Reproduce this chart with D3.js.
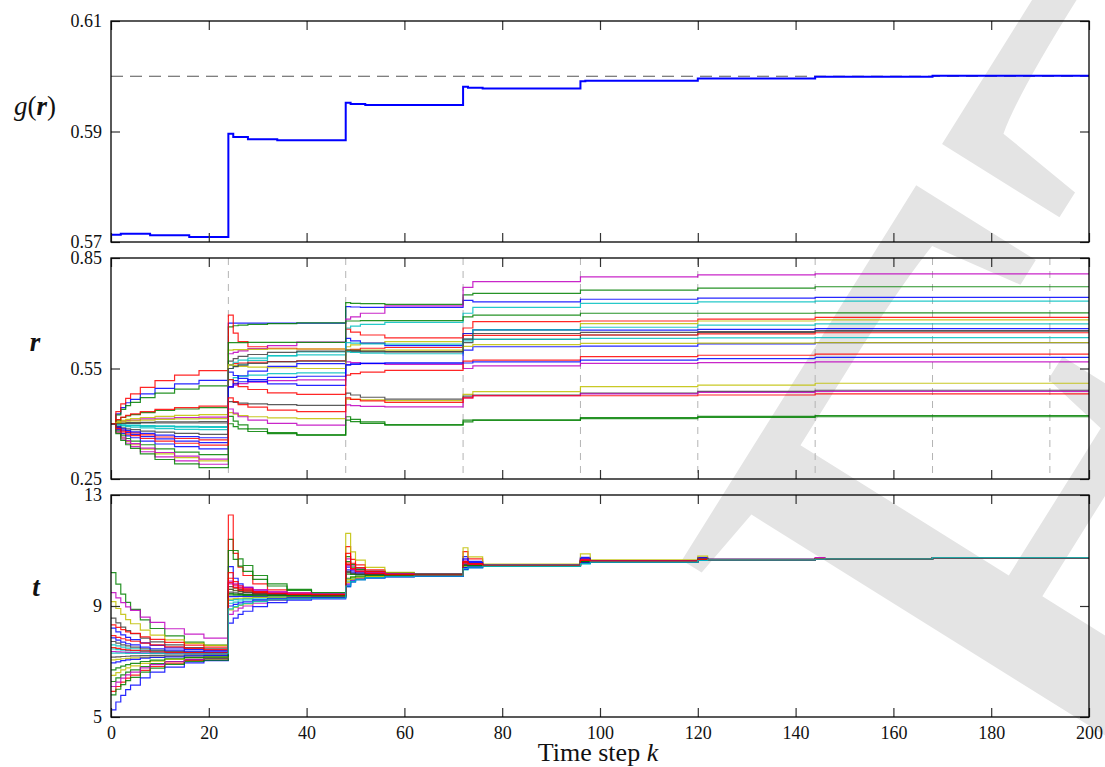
<!DOCTYPE html>
<html>
<head>
<meta charset="utf-8">
<script src="https://cdn.jsdelivr.net/npm/d3@7"></script>
<style>
  body { margin: 0; background: #fff; }
  svg text { font-family: "Liberation Serif", "Times New Roman", serif; fill: #111; }
</style>
</head>
<body>
<svg id="chart" width="1105" height="767"></svg>
<script>
// ===== data =====

const X_TICKS = [0, 20, 40, 60, 80, 100, 120, 140, 160, 180, 200];
const PERIOD_STARTS = [24, 48, 72, 96, 120, 144, 168, 192];
// matlab colour order b g r c m y k
const LINE_COLORS = ["#0000ff", "#008000", "#ff0000", "#00bfbf", "#bf00bf", "#bfbf00", "#404040"];

// top panel: g(r)
const G_TICKS = [0.57, 0.59, 0.61];
const G_LIMIT = 0.6;
const G_STEPS = [0, 2, 8, 16, 24, 25, 28, 34, 48, 49, 52, 72, 73, 76, 96, 97, 120, 144, 168, 200];
const G_VALUES = [0.5713, 0.5715, 0.5712, 0.5709, 0.5896, 0.5890, 0.5886, 0.5884, 0.5952, 0.5950, 0.5948,
                  0.5981, 0.5979, 0.5978, 0.5991, 0.5992, 0.5996, 0.5999, 0.6001, 0.6001];

// middle panel: r (one row per series, values at R_STEPS)
const R_TICKS = [0.25, 0.55, 0.85];
const R_STEPS = [0, 1, 2, 3, 4, 6, 9, 13, 18, 24, 25, 26, 28, 32, 38, 48, 49, 51, 56, 72, 74, 96, 120, 144, 200];
const R_SERIES = [
  [0.400, 0.427, 0.444, 0.457, 0.466, 0.481, 0.496, 0.508, 0.518, 0.673, 0.673, 0.673, 0.673, 0.673, 0.673, 0.718, 0.717, 0.716, 0.716, 0.735, 0.731, 0.738, 0.741, 0.743, 0.743],
  [0.400, 0.424, 0.439, 0.449, 0.458, 0.471, 0.483, 0.494, 0.503, 0.663, 0.666, 0.668, 0.670, 0.672, 0.674, 0.729, 0.727, 0.726, 0.724, 0.750, 0.754, 0.763, 0.768, 0.772, 0.772],
  [0.400, 0.433, 0.454, 0.469, 0.481, 0.499, 0.517, 0.532, 0.544, 0.695, 0.646, 0.623, 0.609, 0.605, 0.603, 0.657, 0.649, 0.641, 0.633, 0.660, 0.677, 0.679, 0.684, 0.689, 0.689],
  [0.400, 0.398, 0.397, 0.396, 0.396, 0.395, 0.394, 0.393, 0.392, 0.550, 0.556, 0.562, 0.572, 0.585, 0.595, 0.660, 0.665, 0.670, 0.675, 0.700, 0.716, 0.727, 0.731, 0.733, 0.733],
  [0.400, 0.404, 0.407, 0.409, 0.410, 0.413, 0.415, 0.417, 0.418, 0.590, 0.594, 0.598, 0.604, 0.612, 0.622, 0.684, 0.690, 0.700, 0.720, 0.770, 0.786, 0.799, 0.804, 0.807, 0.807],
  [0.400, 0.406, 0.409, 0.412, 0.414, 0.417, 0.420, 0.423, 0.425, 0.600, 0.601, 0.601, 0.602, 0.603, 0.603, 0.609, 0.614, 0.619, 0.623, 0.645, 0.655, 0.672, 0.679, 0.682, 0.682],
  [0.400, 0.401, 0.402, 0.403, 0.403, 0.404, 0.405, 0.405, 0.406, 0.570, 0.577, 0.583, 0.588, 0.594, 0.597, 0.596, 0.596, 0.595, 0.595, 0.620, 0.629, 0.641, 0.648, 0.652, 0.652],
  [0.400, 0.388, 0.381, 0.376, 0.371, 0.365, 0.359, 0.353, 0.349, 0.500, 0.517, 0.530, 0.543, 0.556, 0.563, 0.632, 0.625, 0.619, 0.612, 0.645, 0.655, 0.654, 0.656, 0.658, 0.658],
  [0.400, 0.410, 0.417, 0.421, 0.425, 0.430, 0.436, 0.440, 0.444, 0.620, 0.620, 0.620, 0.621, 0.621, 0.621, 0.679, 0.679, 0.680, 0.680, 0.690, 0.695, 0.700, 0.700, 0.701, 0.701],
  [0.400, 0.390, 0.383, 0.379, 0.375, 0.370, 0.364, 0.360, 0.356, 0.560, 0.563, 0.565, 0.567, 0.569, 0.571, 0.600, 0.602, 0.605, 0.607, 0.640, 0.640, 0.641, 0.644, 0.647, 0.647],
  [0.400, 0.396, 0.394, 0.392, 0.391, 0.389, 0.387, 0.385, 0.384, 0.520, 0.525, 0.529, 0.532, 0.536, 0.538, 0.596, 0.594, 0.592, 0.590, 0.630, 0.655, 0.662, 0.668, 0.671, 0.671],
  [0.400, 0.375, 0.359, 0.347, 0.338, 0.324, 0.310, 0.299, 0.290, 0.500, 0.505, 0.509, 0.513, 0.517, 0.519, 0.568, 0.566, 0.563, 0.561, 0.550, 0.557, 0.564, 0.566, 0.568, 0.568],
  [0.400, 0.377, 0.362, 0.352, 0.343, 0.331, 0.318, 0.308, 0.299, 0.430, 0.426, 0.422, 0.419, 0.416, 0.414, 0.467, 0.466, 0.465, 0.463, 0.480, 0.487, 0.501, 0.505, 0.510, 0.510],
  [0.400, 0.400, 0.401, 0.401, 0.401, 0.402, 0.402, 0.402, 0.402, 0.460, 0.458, 0.456, 0.454, 0.452, 0.450, 0.483, 0.478, 0.472, 0.467, 0.475, 0.478, 0.483, 0.488, 0.491, 0.491],
  [0.400, 0.384, 0.374, 0.367, 0.362, 0.353, 0.345, 0.338, 0.332, 0.540, 0.531, 0.523, 0.515, 0.508, 0.504, 0.560, 0.562, 0.564, 0.565, 0.600, 0.609, 0.611, 0.617, 0.620, 0.620],
  [0.400, 0.381, 0.369, 0.360, 0.353, 0.343, 0.332, 0.323, 0.316, 0.420, 0.407, 0.397, 0.386, 0.376, 0.370, 0.419, 0.412, 0.405, 0.397, 0.410, 0.410, 0.417, 0.420, 0.422, 0.422],
  [0.400, 0.411, 0.418, 0.423, 0.427, 0.433, 0.439, 0.444, 0.448, 0.520, 0.510, 0.501, 0.493, 0.484, 0.480, 0.532, 0.536, 0.540, 0.545, 0.570, 0.573, 0.582, 0.586, 0.589, 0.589],
  [0.400, 0.398, 0.396, 0.395, 0.395, 0.393, 0.392, 0.391, 0.390, 0.560, 0.567, 0.573, 0.578, 0.584, 0.587, 0.620, 0.619, 0.617, 0.616, 0.625, 0.629, 0.632, 0.633, 0.634, 0.634],
  [0.400, 0.378, 0.364, 0.354, 0.346, 0.334, 0.322, 0.312, 0.304, 0.440, 0.429, 0.419, 0.410, 0.401, 0.396, 0.451, 0.449, 0.447, 0.446, 0.470, 0.476, 0.481, 0.485, 0.488, 0.488],
  [0.400, 0.403, 0.405, 0.407, 0.408, 0.410, 0.412, 0.413, 0.414, 0.560, 0.558, 0.556, 0.554, 0.552, 0.550, 0.600, 0.600, 0.600, 0.600, 0.610, 0.615, 0.618, 0.619, 0.620, 0.620],
  [0.400, 0.393, 0.389, 0.386, 0.384, 0.380, 0.377, 0.374, 0.371, 0.550, 0.555, 0.559, 0.564, 0.568, 0.570, 0.600, 0.599, 0.597, 0.596, 0.630, 0.645, 0.648, 0.650, 0.652, 0.652],
  [0.400, 0.391, 0.386, 0.382, 0.378, 0.374, 0.369, 0.365, 0.362, 0.500, 0.508, 0.514, 0.520, 0.526, 0.529, 0.560, 0.562, 0.564, 0.565, 0.565, 0.568, 0.573, 0.577, 0.580, 0.580],
  [0.400, 0.373, 0.355, 0.343, 0.333, 0.318, 0.303, 0.291, 0.281, 0.400, 0.392, 0.386, 0.379, 0.373, 0.369, 0.410, 0.406, 0.401, 0.397, 0.405, 0.410, 0.414, 0.417, 0.419, 0.419],
  [0.400, 0.387, 0.378, 0.372, 0.368, 0.360, 0.353, 0.347, 0.342, 0.470, 0.460, 0.452, 0.445, 0.437, 0.433, 0.470, 0.466, 0.462, 0.458, 0.470, 0.476, 0.476, 0.478, 0.481, 0.481]
];

// bottom panel: t (one row per series, values at T_STEPS)
const T_TICKS = [5, 9, 13];
const T_STEPS = [0, 1, 2, 3, 4, 6, 8, 11, 15, 19, 24, 25, 26, 27, 29, 32, 36, 41, 48, 49, 50, 52, 56, 62, 72, 73, 76, 96, 98, 120, 122, 144, 146, 168, 200];
const T_SERIES = [
  [5.26, 5.54, 5.78, 5.99, 6.15, 6.41, 6.62, 6.80, 6.95, 7.03, 10.42, 10.00, 9.80, 9.67, 9.54, 9.45, 9.41, 9.39, 10.30, 10.22, 10.18, 10.15, 10.13, 10.12, 10.78, 10.61, 10.47, 10.75, 10.64, 10.74, 10.68, 10.71, 10.70, 10.74, 10.74],
  [10.20, 9.79, 9.43, 9.13, 8.88, 8.50, 8.19, 7.92, 7.70, 7.59, 11.40, 11.00, 10.70, 10.46, 10.10, 9.80, 9.60, 9.48, 10.78, 10.50, 10.37, 10.26, 10.19, 10.16, 10.60, 10.52, 10.46, 10.65, 10.61, 10.68, 10.67, 10.71, 10.70, 10.74, 10.74],
  [5.92, 6.10, 6.26, 6.40, 6.51, 6.68, 6.82, 6.94, 7.04, 7.09, 12.28, 10.90, 10.40, 10.10, 9.80, 9.58, 9.47, 9.41, 11.14, 10.68, 10.48, 10.30, 10.18, 10.13, 10.96, 10.70, 10.49, 10.70, 10.63, 10.72, 10.68, 10.73, 10.71, 10.74, 10.74],
  [7.60, 7.56, 7.52, 7.48, 7.46, 7.41, 7.38, 7.35, 7.33, 7.32, 9.10, 9.14, 9.18, 9.22, 9.24, 9.28, 9.30, 9.31, 9.70, 9.87, 9.95, 10.01, 10.06, 10.08, 10.30, 10.37, 10.43, 10.52, 10.58, 10.64, 10.66, 10.69, 10.70, 10.74, 10.74],
  [9.48, 9.29, 9.12, 8.97, 8.84, 8.60, 8.41, 8.18, 7.99, 7.84, 9.80, 9.72, 9.66, 9.61, 9.54, 9.48, 9.44, 9.42, 10.70, 10.45, 10.34, 10.25, 10.18, 10.16, 10.65, 10.55, 10.46, 10.68, 10.62, 10.71, 10.67, 10.74, 10.71, 10.74, 10.74],
  [9.16, 8.91, 8.70, 8.51, 8.36, 8.13, 7.95, 7.78, 7.65, 7.58, 9.60, 9.56, 9.52, 9.50, 9.46, 9.42, 9.40, 9.39, 11.62, 10.95, 10.65, 10.39, 10.21, 10.14, 11.10, 10.77, 10.51, 10.88, 10.66, 10.80, 10.68, 10.71, 10.70, 10.74, 10.74],
  [8.56, 8.39, 8.24, 8.11, 8.00, 7.84, 7.71, 7.60, 7.50, 7.46, 9.70, 9.64, 9.59, 9.55, 9.49, 9.44, 9.41, 9.39, 10.48, 10.32, 10.25, 10.18, 10.14, 10.12, 10.55, 10.50, 10.45, 10.64, 10.61, 10.68, 10.67, 10.71, 10.70, 10.74, 10.74],
  [8.20, 8.07, 7.96, 7.87, 7.79, 7.67, 7.58, 7.49, 7.43, 7.39, 9.34, 9.34, 9.35, 9.35, 9.35, 9.36, 9.36, 9.36, 10.40, 10.27, 10.22, 10.17, 10.14, 10.12, 10.70, 10.57, 10.47, 10.72, 10.63, 10.73, 10.68, 10.71, 10.70, 10.74, 10.74],
  [5.80, 6.00, 6.17, 6.31, 6.43, 6.62, 6.76, 6.90, 7.00, 7.05, 11.00, 10.68, 10.44, 10.25, 9.96, 9.72, 9.56, 9.46, 10.60, 10.40, 10.31, 10.23, 10.18, 10.15, 10.55, 10.50, 10.45, 10.63, 10.61, 10.68, 10.67, 10.71, 10.70, 10.74, 10.74],
  [8.32, 8.23, 8.15, 8.07, 8.01, 7.89, 7.80, 7.69, 7.59, 7.52, 9.84, 9.66, 9.56, 9.51, 9.45, 9.41, 9.39, 9.38, 10.90, 10.54, 10.38, 10.24, 10.15, 10.11, 10.60, 10.52, 10.46, 10.66, 10.62, 10.68, 10.67, 10.71, 10.70, 10.74, 10.74],
  [7.45, 7.43, 7.41, 7.39, 7.38, 7.36, 7.34, 7.33, 7.31, 7.31, 9.20, 9.23, 9.25, 9.27, 9.29, 9.31, 9.33, 9.34, 9.90, 9.98, 10.02, 10.05, 10.07, 10.08, 10.42, 10.43, 10.44, 10.56, 10.59, 10.68, 10.67, 10.71, 10.70, 10.74, 10.74],
  [7.36, 7.35, 7.34, 7.33, 7.32, 7.31, 7.30, 7.29, 7.29, 7.28, 8.70, 8.82, 8.92, 9.00, 9.10, 9.20, 9.26, 9.30, 9.80, 9.93, 9.98, 10.03, 10.06, 10.08, 10.38, 10.41, 10.43, 10.55, 10.59, 10.68, 10.67, 10.71, 10.70, 10.74, 10.74],
  [7.06, 7.08, 7.10, 7.11, 7.13, 7.15, 7.16, 7.18, 7.19, 7.19, 8.86, 8.95, 9.02, 9.08, 9.17, 9.24, 9.28, 9.31, 9.95, 10.02, 10.05, 10.07, 10.09, 10.10, 10.45, 10.44, 10.44, 10.58, 10.60, 10.68, 10.67, 10.71, 10.70, 10.74, 10.74],
  [7.72, 7.66, 7.60, 7.56, 7.52, 7.46, 7.41, 7.37, 7.34, 7.32, 9.50, 9.47, 9.45, 9.43, 9.41, 9.39, 9.37, 9.36, 10.20, 10.16, 10.14, 10.12, 10.11, 10.10, 10.50, 10.47, 10.44, 10.62, 10.60, 10.68, 10.67, 10.71, 10.70, 10.74, 10.74],
  [7.85, 7.77, 7.70, 7.64, 7.60, 7.52, 7.46, 7.41, 7.37, 7.35, 8.38, 8.56, 8.70, 8.81, 8.98, 9.12, 9.21, 9.26, 9.70, 9.87, 9.95, 10.01, 10.06, 10.08, 10.32, 10.38, 10.43, 10.54, 10.59, 10.65, 10.66, 10.71, 10.70, 10.74, 10.74],
  [6.28, 6.41, 6.52, 6.62, 6.70, 6.82, 6.92, 7.00, 7.07, 7.11, 9.45, 9.43, 9.42, 9.41, 9.39, 9.38, 9.37, 9.36, 10.15, 10.14, 10.13, 10.13, 10.12, 10.12, 10.48, 10.46, 10.44, 10.60, 10.60, 10.68, 10.67, 10.71, 10.70, 10.74, 10.74],
  [7.93, 7.87, 7.82, 7.77, 7.73, 7.66, 7.60, 7.53, 7.47, 7.43, 10.00, 9.76, 9.64, 9.57, 9.49, 9.44, 9.42, 9.41, 10.50, 10.32, 10.24, 10.17, 10.12, 10.10, 10.55, 10.50, 10.45, 10.64, 10.61, 10.68, 10.67, 10.71, 10.70, 10.74, 10.74],
  [7.30, 7.30, 7.30, 7.29, 7.29, 7.29, 7.29, 7.28, 7.28, 7.28, 8.90, 8.98, 9.04, 9.09, 9.16, 9.22, 9.26, 9.28, 9.72, 9.88, 9.95, 10.02, 10.06, 10.08, 10.35, 10.40, 10.43, 10.53, 10.58, 10.64, 10.66, 10.69, 10.70, 10.74, 10.74],
  [6.10, 6.26, 6.40, 6.52, 6.62, 6.77, 6.89, 7.00, 7.08, 7.13, 9.90, 9.80, 9.73, 9.67, 9.59, 9.52, 9.47, 9.44, 10.45, 10.31, 10.25, 10.20, 10.16, 10.14, 10.52, 10.48, 10.45, 10.63, 10.61, 10.68, 10.67, 10.71, 10.70, 10.74, 10.74],
  [6.50, 6.60, 6.70, 6.77, 6.84, 6.93, 7.01, 7.08, 7.14, 7.16, 9.25, 9.27, 9.28, 9.29, 9.31, 9.32, 9.33, 9.34, 9.85, 9.96, 10.01, 10.06, 10.09, 10.10, 10.44, 10.44, 10.44, 10.58, 10.60, 10.68, 10.67, 10.71, 10.70, 10.74, 10.74],
  [7.16, 7.17, 7.18, 7.19, 7.20, 7.21, 7.22, 7.23, 7.24, 7.24, 9.60, 9.55, 9.52, 9.49, 9.44, 9.41, 9.38, 9.37, 10.25, 10.18, 10.15, 10.13, 10.11, 10.10, 10.46, 10.45, 10.44, 10.60, 10.60, 10.68, 10.67, 10.71, 10.70, 10.74, 10.74],
  [6.95, 6.99, 7.03, 7.06, 7.08, 7.12, 7.15, 7.17, 7.20, 7.21, 9.00, 9.06, 9.11, 9.15, 9.21, 9.26, 9.29, 9.31, 9.75, 9.90, 9.96, 10.02, 10.06, 10.08, 10.38, 10.41, 10.43, 10.56, 10.59, 10.68, 10.67, 10.71, 10.70, 10.74, 10.74],
  [6.70, 6.77, 6.83, 6.89, 6.93, 7.00, 7.05, 7.10, 7.14, 7.16, 9.40, 9.39, 9.39, 9.38, 9.37, 9.37, 9.36, 9.36, 10.00, 10.05, 10.08, 10.10, 10.11, 10.12, 10.47, 10.46, 10.44, 10.60, 10.60, 10.68, 10.67, 10.71, 10.70, 10.74, 10.74],
  [7.50, 7.47, 7.44, 7.42, 7.40, 7.38, 7.35, 7.33, 7.32, 7.31, 10.20, 9.88, 9.72, 9.62, 9.52, 9.46, 9.42, 9.41, 10.55, 10.35, 10.26, 10.18, 10.13, 10.11, 10.58, 10.51, 10.45, 10.64, 10.61, 10.68, 10.67, 10.71, 10.70, 10.74, 10.74]
];

// ===== layout =====

const svg = d3.select("#chart");

const x = d3.scaleLinear().domain([0, 200]).range([111, 1089]);

const panels = [
  {top: 21,  bottom: 242, domain: [0.57, 0.61], ticks: G_TICKS, fmt: d3.format(".2f")},
  {top: 258, bottom: 479, domain: [0.25, 0.85], ticks: R_TICKS, fmt: d3.format(".2f")},
  {top: 495, bottom: 717, domain: [5, 13],      ticks: T_TICKS, fmt: d3.format("d")}
];
panels.forEach(p => {
  p.y = d3.scaleLinear().domain(p.domain).range([p.bottom, p.top]);
});

// watermark behind everything
svg.append("text")
    .attr("transform", "translate(161,2506) rotate(-58)")
    .style("font-size", "900px")
    .style("fill", "#e4e4e4")
    .text("DRAFT");

// step line for one series
function stepLine(steps, y) {
  return d3.line()
      .x((d, i) => x(steps[i]))
      .y(d => y(d))
      .curve(d3.curveStepAfter);
}

// ---- top panel ----
const pG = panels[0];
svg.append("line")
    .attr("x1", x(0)).attr("x2", x(200))
    .attr("y1", pG.y(G_LIMIT)).attr("y2", pG.y(G_LIMIT))
    .style("stroke", "#555")
    .style("stroke-width", 1.2)
    .style("stroke-dasharray", "12,7");

svg.append("path")
    .attr("d", stepLine(G_STEPS, pG.y)(G_VALUES))
    .style("fill", "none")
    .style("stroke", "#0000ff")
    .style("stroke-width", 2);

// ---- middle panel ----
const pR = panels[1];
svg.append("g").selectAll("line")
    .data(PERIOD_STARTS)
    .join("line")
    .attr("x1", d => x(d)).attr("x2", d => x(d))
    .attr("y1", pR.top).attr("y2", pR.bottom)
    .style("stroke", "#b4b4b4")
    .style("stroke-width", 1)
    .style("stroke-dasharray", "7,6");

svg.append("g").selectAll("path")
    .data(R_SERIES)
    .join("path")
    .attr("d", d => stepLine(R_STEPS, pR.y)(d))
    .style("fill", "none")
    .style("stroke", (d, i) => LINE_COLORS[i % LINE_COLORS.length])
    .style("stroke-width", 1.2)
    .style("stroke-opacity", 0.85);

// ---- bottom panel ----
const pT = panels[2];
const tPaths = svg.append("g").selectAll("path")
    .data(T_SERIES)
    .join("path")
    .attr("d", d => stepLine(T_STEPS, pT.y)(d))
    .style("fill", "none")
    .style("stroke", (d, i) => LINE_COLORS[i % LINE_COLORS.length])
    .style("stroke-width", 1.2)
    .style("stroke-opacity", 0.85);
// the cyan series sits on top at the end of the horizon
tPaths.filter((d, i) => i === 17).raise();

// ---- frames and ticks (ticks point inwards) ----
panels.forEach((p, idx) => {
  const last = idx === panels.length - 1;

  const bottomAxis = d3.axisBottom(x).tickValues(X_TICKS)
      .tickSizeInner(-9).tickSizeOuter(0).tickPadding(9);
  if (!last) bottomAxis.tickFormat("");
  const gb = svg.append("g").attr("transform", "translate(0," + p.bottom + ")").call(bottomAxis);

  const gt = svg.append("g").attr("transform", "translate(0," + p.top + ")")
      .call(d3.axisTop(x).tickValues(X_TICKS).tickSizeInner(-9).tickSizeOuter(0).tickFormat(""));

  const gl = svg.append("g").attr("transform", "translate(" + x(0) + ",0)")
      .call(d3.axisLeft(p.y).tickValues(p.ticks).tickSizeInner(-9).tickSizeOuter(0)
          .tickPadding(9).tickFormat(p.fmt));

  const gr = svg.append("g").attr("transform", "translate(" + x(200) + ",0)")
      .call(d3.axisRight(p.y).tickValues(p.ticks).tickSizeInner(-9).tickSizeOuter(0).tickFormat(""));

  [gb, gt, gl, gr].forEach(g => {
    g.select(".domain").remove();
    g.selectAll(".tick line").style("stroke", "#333").style("stroke-width", 1.2);
    g.selectAll("text").style("font-family", "'Liberation Serif', serif")
        .style("font-size", "18px").style("fill", "#111");
  });

  svg.append("rect")
      .attr("x", x(0)).attr("y", p.top)
      .attr("width", x(200) - x(0)).attr("height", p.bottom - p.top)
      .style("fill", "none")
      .style("stroke", "#000")
      .style("stroke-width", 1.3);
});

// ---- axis titles ----
svg.append("text")
    .attr("x", 598).attr("y", 761)
    .attr("text-anchor", "middle")
    .style("font-size", "26px")
    .call(t => {
      t.append("tspan").text("Time step ");
      t.append("tspan").style("font-style", "italic").text("k");
    });

const gLabel = svg.append("text")
    .attr("x", 35).attr("y", 115)
    .attr("text-anchor", "middle")
    .style("font-size", "27px");
gLabel.append("tspan").style("font-style", "italic").text("g");
gLabel.append("tspan").text("(");
gLabel.append("tspan").style("font-style", "italic").style("font-weight", "bold").text("r");
gLabel.append("tspan").text(")");

svg.append("text")
    .attr("x", 35).attr("y", 351)
    .attr("text-anchor", "middle")
    .style("font-size", "27px")
    .style("font-style", "italic")
    .style("font-weight", "bold")
    .text("r");

svg.append("text")
    .attr("x", 36).attr("y", 596)
    .attr("text-anchor", "middle")
    .style("font-size", "27px")
    .style("font-style", "italic")
    .style("font-weight", "bold")
    .text("t");
</script>
</body>
</html>
